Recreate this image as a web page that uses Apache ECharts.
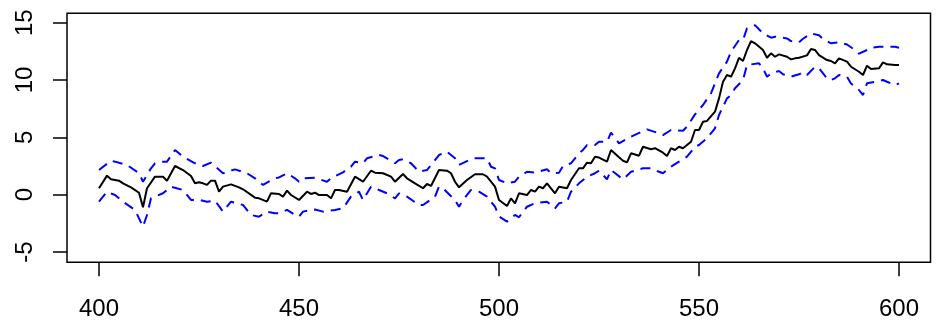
<!DOCTYPE html>
<html>
<head>
<meta charset="utf-8">
<script src="https://cdn.jsdelivr.net/npm/echarts@6/dist/echarts.min.js"></script>
<style>
  html, body { margin: 0; padding: 0; background: #fff; }
  #chart { width: 941px; height: 328px; }
</style>
</head>
<body>
<div id="chart"></div>
<script>
// values, [x, y]
const meanLine = [
  [400, 0.56], [402, 1.66], [403, 1.34], [405, 1.22], [406, 0.99], [408, 0.64], [410, 0.17], [411, -1.1],
  [412, 0.56], [414, 1.57], [416, 1.57], [417, 1.22], [419, 2.5], [421, 2.15], [423, 1.63], [424, 0.99],
  [425, 1.08], [426, 0.99], [427, 0.85], [428, 1.22], [429, 1.22], [430, 0.26], [431, 0.7], [433, 0.9],
  [435, 0.64], [436, 0.47], [439, -0.26], [440, -0.32], [442, -0.61], [443, 0.12], [445, 0.06], [446, -0.17],
  [447, 0.35], [448, -0.03], [450, -0.46], [452, 0.26], [453, 0.06], [454, 0.17], [455, -0.03], [457, -0.03],
  [458, -0.32], [459, 0.41], [460, 0.41], [462, 0.26], [464, 1.57], [466, 1.13], [468, 2.09], [469, 1.92],
  [471, 1.87], [473, 1.57], [474, 1.13], [476, 1.8], [477, 1.43], [479, 0.99], [481, 0.56], [482, 0.93],
  [483, 0.76], [485, 2.15], [487, 2.09], [488, 1.87], [489, 1.13], [490, 0.64], [492, 1.28], [494, 1.78],
  [496, 1.78], [497, 1.57], [499, 0.7], [500, -0.46], [502, -0.99], [503, -0.32], [504, -0.75], [505, 0.12],
  [507, -0.03], [508, 0.41], [509, 0.26], [510, 0.7], [511, 0.56], [512, 0.99], [514, 0.12], [515, 0.7],
  [517, 0.56], [518, 1.28], [520, 2.3], [521, 2.3], [522, 2.79], [523, 2.74], [524, 3.31], [525, 3.24],
  [527, 2.88], [528, 3.9], [530, 3.26], [531, 2.96], [532, 2.82], [533, 3.61], [535, 3.4], [536, 4.18],
  [538, 3.96], [539, 4.05], [541, 3.66], [542, 3.37], [543, 4.05], [544, 3.9], [545, 4.18], [546, 4.05],
  [548, 4.62], [549, 5.64], [550, 5.64], [551, 6.36], [552, 6.43], [554, 7.24], [555, 8.4], [556, 9.85],
  [557, 10.44], [558, 10.29], [559, 11.02], [560, 11.94], [561, 11.66], [562, 12.62], [563, 13.4], [564, 13.2],
  [566, 12.62], [567, 11.94], [568, 12.33], [569, 12.03], [570, 12.24], [572, 12.03], [573, 11.8], [574, 11.89],
  [575, 11.94], [577, 12.15], [578, 12.7], [579, 12.62], [580, 12.18], [582, 11.74], [583, 11.66], [584, 11.46],
  [585, 11.89], [587, 11.6], [588, 11.16], [590, 10.72], [591, 10.44], [592, 11.25], [593, 10.96], [595, 11.02],
  [596, 11.54], [597, 11.37], [599, 11.31], [600, 11.3]
];

const upperBand = [
  [400, 2.15], [403, 2.96], [404, 2.88], [407, 2.59], [410, 1.87], [411, 1.13], [413, 2.3], [414, 2.74],
  [416, 2.88], [417, 2.88], [419, 3.9], [421, 3.31], [424, 2.74], [426, 2.5], [428, 2.79], [431, 1.87],
  [434, 2.21], [437, 1.87], [439, 1.43], [441, 0.85], [444, 1.43], [445, 1.5], [447, 1.87], [449, 1.43],
  [450, 1.13], [451, 1.43], [454, 1.48], [457, 1.13], [458, 1.43], [461, 1.95], [463, 2.44], [464, 2.88],
  [466, 2.74], [467, 3.17], [470, 3.46], [471, 3.37], [474, 2.74], [475, 3.02], [476, 3.09], [478, 2.74],
  [480, 2.0], [482, 2.15], [485, 3.46], [487, 3.75], [489, 3.17], [490, 2.59], [493, 3.09], [494, 3.17],
  [497, 3.17], [498, 2.44], [499, 2.3], [500, 1.28], [502, 0.99], [504, 1.13], [505, 1.57], [507, 2.0],
  [509, 1.92], [512, 2.21], [513, 1.87], [515, 1.92], [516, 2.5], [518, 2.74], [520, 3.61], [521, 3.9],
  [522, 4.33], [524, 4.33], [525, 4.62], [527, 4.62], [528, 5.41], [530, 4.48], [533, 5.06], [537, 5.7],
  [540, 5.35], [541, 5.2], [543, 5.64], [546, 5.58], [547, 5.93], [549, 7.0], [551, 7.82], [553, 8.84],
  [555, 10.58], [557, 11.6], [558, 12.47], [560, 13.49], [561, 13.49], [562, 14.5], [564, 14.79], [566, 14.07],
  [568, 13.69], [569, 13.78], [572, 13.63], [573, 13.4], [575, 13.3], [576, 13.6], [578, 14.07], [580, 13.9],
  [581, 13.58], [583, 13.2], [585, 13.29], [587, 13.1], [589, 12.62], [590, 12.3], [592, 12.62], [593, 12.82],
  [595, 12.9], [599, 12.9], [600, 12.82]
];

const lowerBand = [
  [400, -0.61], [402, 0.26], [404, -0.03], [406, -0.61], [409, -1.33], [411, -2.79], [412, -1.77], [413, -0.31],
  [416, 0.12], [418, 0.7], [421, 0.41], [423, -0.46], [425, -0.46], [427, -0.61], [429, -0.52], [431, -1.48],
  [433, -0.61], [436, -0.9], [438, -1.77], [440, -1.92], [442, -1.48], [444, -1.62], [445, -1.62], [447, -1.33],
  [449, -1.77], [450, -1.92], [451, -1.48], [453, -1.33], [454, -1.3], [456, -1.48], [459, -1.33], [461, -1.19],
  [463, -0.17], [465, 0.26], [466, -0.46], [468, 0.7], [470, 0.41], [472, 0.12], [474, -0.32], [475, 0.12],
  [477, -0.17], [480, -0.9], [481, -0.9], [484, -0.17], [485, 0.7], [486, 0.56], [489, -0.46], [490, -1.05],
  [491, -0.46], [493, 0.41], [495, 0.26], [497, -0.17], [499, -1.05], [500, -1.9], [502, -2.35], [504, -1.77],
  [505, -1.97], [507, -1.05], [509, -0.75], [512, -0.61], [514, -1.19], [515, -0.75], [517, -0.61], [518, 0.26],
  [520, 0.99], [522, 1.57], [524, 1.87], [525, 2.1], [527, 1.34], [528, 2.15], [531, 1.34], [533, 2.0],
  [536, 2.3], [538, 2.3], [540, 2.0], [541, 1.87], [543, 2.44], [545, 2.88], [547, 3.31], [549, 4.18],
  [550, 4.33], [552, 4.92], [554, 5.79], [555, 6.95], [557, 8.4], [558, 8.69], [559, 9.28], [561, 10.0],
  [562, 11.31], [565, 11.46], [566, 11.02], [567, 10.29], [568, 10.58], [570, 10.78], [571, 10.5], [573, 10.29],
  [575, 10.5], [576, 10.67], [577, 10.44], [579, 11.16], [580, 11.02], [582, 10.15], [583, 10.0], [584, 10.15],
  [585, 10.44], [587, 10.29], [588, 9.7], [590, 9.13], [591, 8.69], [592, 9.71], [594, 9.85], [596, 10.0],
  [597, 9.85], [599, 9.56], [600, 9.71]
];

const xTicks = { min: 400, max: 600, step: 50 };
const yTicks = { min: -5, max: 15, step: 5 };

const chart = echarts.init(document.getElementById('chart'), null, { renderer: 'canvas' });

const labelFont = { color: '#000', fontSize: 24, fontFamily: '"Liberation Sans", Arial, sans-serif' };
const tickStyle = { show: true, length: 14, lineStyle: { color: '#000', width: 1.5 } };

const bandSeries = (data) => ({
  type: 'line',
  data,
  showSymbol: false,
  symbol: 'none',
  lineStyle: { color: '#0000ff', width: 2, type: [10, 7] },
  z: 2,
});

chart.setOption({
  animation: false,
  grid: { left: 99, right: 42, top: 22.7, bottom: 76 },
  xAxis: {
    type: 'value',
    min: xTicks.min,
    max: xTicks.max,
    interval: xTicks.step,
    offset: 10.3,
    axisLine: { show: false, onZero: false },
    axisTick: tickStyle,
    splitLine: { show: false },
    axisLabel: { ...labelFont, margin: 35 },
  },
  yAxis: {
    type: 'value',
    min: yTicks.min,
    max: yTicks.max,
    interval: yTicks.step,
    offset: 32,
    axisLine: { show: false, onZero: false },
    axisTick: tickStyle,
    splitLine: { show: false },
    axisLabel: { ...labelFont, rotate: 90, margin: 30 },
  },
  graphic: [{
    type: 'rect',
    shape: { x: 67, y: 13.3, width: 863.5, height: 249 },
    style: { fill: null, stroke: '#000', lineWidth: 1.5 },
    silent: true,
    z: 10,
  }],
  series: [
    bandSeries(upperBand),
    bandSeries(lowerBand),
    {
      type: 'line',
      data: meanLine,
      showSymbol: false,
      symbol: 'none',
      lineStyle: { color: '#000', width: 2 },
      z: 3,
    },
  ],
});
</script>
</body>
</html>
